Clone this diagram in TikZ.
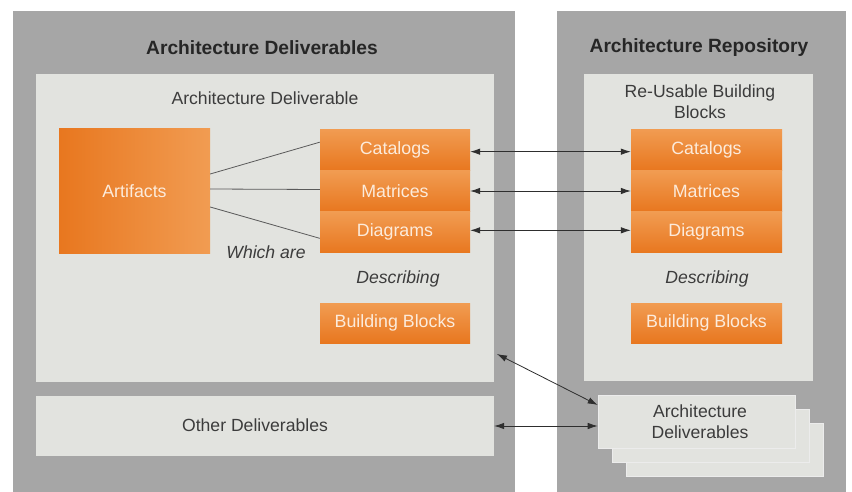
\documentclass[tikz,border=0pt]{standalone}
\usepackage{fontspec}
\setmainfont{Liberation Sans}
\usetikzlibrary{arrows.meta,positioning,calc}
\definecolor{panelgray}{HTML}{A6A6A6}
\definecolor{innergray}{HTML}{E2E3DF}
\definecolor{orangedark}{HTML}{E8771F}
\definecolor{orangelight}{HTML}{F19C52}
\definecolor{orangetext}{HTML}{FCEBDB}
\definecolor{titletext}{HTML}{262626}
\definecolor{bodytext}{HTML}{3C3C3C}
\definecolor{linkgray}{HTML}{5A5A5A}
\definecolor{arrowgray}{HTML}{2E2E2E}
\begin{document}
\begin{tikzpicture}[x=1pt,y=-1pt,
  panel/.style={rectangle,fill=panelgray,draw=none,inner sep=0pt},
  innerbox/.style={rectangle,fill=innergray,draw=none,inner sep=0pt},
  stackbox/.style={rectangle,fill=innergray,draw=white!85!gray,line width=0.6pt,inner sep=0pt,minimum width=197pt,minimum height=53pt},
  cellbox/.style={rectangle,top color=orangelight,bottom color=orangedark,draw=none,inner sep=0pt,
     minimum width=150pt,minimum height=41.33pt,text=orangetext,font=\fontsize{17.8}{20}\selectfont},
  bigtitle/.style={font=\bfseries\fontsize{19.2}{22}\selectfont,text=titletext,inner sep=0pt},
  bodylabel/.style={font=\fontsize{17.6}{21}\selectfont,text=bodytext,inner sep=0pt,align=center},
  itlabel/.style={font=\itshape\fontsize{17.6}{20}\selectfont,text=bodytext,inner sep=0pt},
  linkline/.style={draw=linkgray,line width=0.8pt},
  biarrow/.style={draw=arrowgray,line width=0.8pt,{Latex[length=10pt,width=6.5pt]}-{Latex[length=10pt,width=6.5pt]}}
]
\useasboundingbox (0,0) rectangle (852,492);
\fill[white] (0,0) rectangle (852,492);

% panels
\node[panel,minimum width=502pt,minimum height=481pt] (leftpanel) at (264,251.5) {};
\node[panel,minimum width=289pt,minimum height=481pt] (rightpanel) at (701.5,251.5) {};

% inner boxes
\node[innerbox,minimum width=458pt,minimum height=308pt] (innerL) at (265,228) {};
\node[innerbox,minimum width=229pt,minimum height=307pt] (innerR) at (698.5,227.5) {};
\node[innerbox,minimum width=458pt,minimum height=60pt] (other) at (265,426) {};

% stacked deliverables
\node[stackbox] (stack3) at (724.5,449.5) {};
\node[stackbox] (stack2) at (710.5,435.5) {};
\node[stackbox] (stack1) at (696.5,421.5) {};
\node[bodylabel] (stacktext) at (700,422) {Architecture\\Deliverables};

% titles
\node[bigtitle] (titleL) at (262,48) {Architecture Deliverables};
\node[bigtitle] (titleR) at (699,48) {Architecture Repository};
\node[bodylabel] (subL) at (265,98) {Architecture Deliverable};
\node[bodylabel] (subR) at (700,102) {Re-Usable Building\\Blocks};
\node[bodylabel] (othertext) at (255,425) {Other Deliverables};

% orange boxes left
\node[rectangle,left color=orangedark,right color=orangelight,draw=none,inner sep=0pt,
      minimum width=151pt,minimum height=124pt,text=orangetext,font=\fontsize{17.8}{20}\selectfont]
      (artifacts) at (134.5,191) {Artifacts};
\node[cellbox] (catL) at (395,149.67) {Catalogs};
\node[cellbox] (matL) at (395,191) {Matrices};
\node[cellbox] (diaL) at (395,232.33) {Diagrams};
\node[cellbox,minimum height=40pt] (bbL) at (395,323) {Building Blocks};

% orange boxes right
\node[cellbox,minimum width=151pt] (catR) at (706.5,149.67) {Catalogs};
\node[cellbox,minimum width=151pt] (matR) at (706.5,191) {Matrices};
\node[cellbox,minimum width=151pt] (diaR) at (706.5,232.33) {Diagrams};
\node[cellbox,minimum width=151pt,minimum height=40pt] (bbR) at (706.5,323) {Building Blocks};

% italic labels
\node[itlabel] (which) at (266,252) {Which are};
\node[itlabel] (descL) at (398,279) {Describing};
\node[itlabel] (descR) at (707,279) {Describing};

% links from artifacts
\draw[linkline] ([yshift=17pt]artifacts.east) -- ([yshift=7.5pt]catL.west);
\draw[linkline] ([yshift=2pt]artifacts.east) -- ([yshift=1.5pt]matL.west);
\draw[linkline] ([yshift=-16pt]artifacts.east) -- ([yshift=-6pt]diaL.west);

% arrows between repositories
\draw[biarrow] ([yshift=-2pt]catL.east) -- ([yshift=-2pt]catR.west);
\draw[biarrow] (matL.east) -- (matR.west);
\draw[biarrow] ([yshift=2pt]diaL.east) -- ([yshift=2pt]diaR.west);

% arrows to deliverables stack
\coordinate (cornerL) at (497,354);
\draw[biarrow] (cornerL) -- ([yshift=16.5pt]stack1.west);
\draw[biarrow] (other.east) -- ([yshift=-4.5pt]stack1.west);
\end{tikzpicture}
\end{document}
